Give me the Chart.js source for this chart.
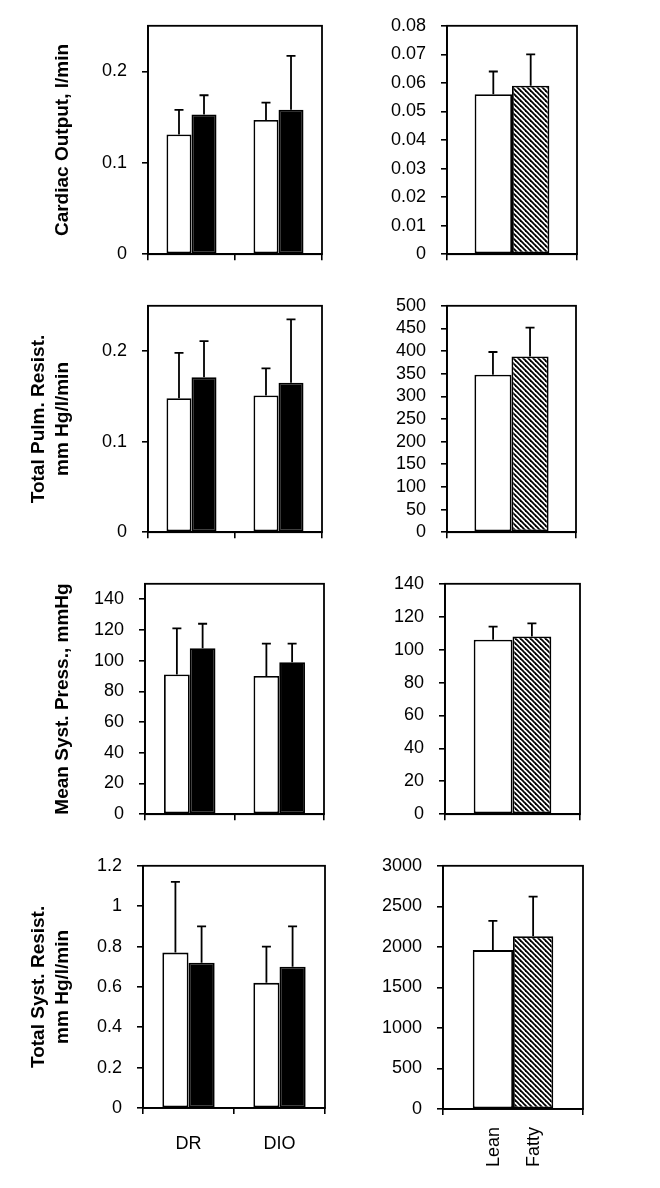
<!DOCTYPE html>
<html><head><meta charset="utf-8">
<script src="https://cdn.jsdelivr.net/npm/chart.js@4.4.1/dist/chart.umd.min.js"></script>
<style>
html,body{margin:0;padding:0;background:#fff;}
#wrap{position:relative;width:660px;height:1188px;overflow:hidden;}
canvas{position:absolute;}
</style></head><body><div id="wrap"></div>
<script>
// ---------- DATA ----------
const groupLabels = ['DR', 'DIO'];
const ratLabels = ['Lean', 'Fatty'];
const seriesNames = ['Series 1', 'Series 2'];

// Cardiac Output, l/min
const coWhite = [0.131, 0.147];
const coWhiteErr = [0.027, 0.019];
const coBlack = [0.153, 0.158];
const coBlackErr = [0.021, 0.059];
const coRat = [0.056, 0.059];
const coRatErr = [0.008, 0.011];
const coTicks = [0, 0.1, 0.2];
const coRatTicks = [0, 0.01, 0.02, 0.03, 0.04, 0.05, 0.06, 0.07, 0.08];

// Total Pulm. Resist.
const tprWhite = [0.148, 0.151];
const tprWhiteErr = [0.050, 0.030];
const tprBlack = [0.171, 0.165];
const tprBlackErr = [0.040, 0.070];
const tprRat = [348, 388];
const tprRatErr = [50, 64];
const tprTicks = [0, 0.1, 0.2];
const tprRatTicks = [0, 50, 100, 150, 200, 250, 300, 350, 400, 450, 500];

// Mean Syst. Press., mmHg
const mspWhite = [91, 90];
const mspWhiteErr = [30, 21];
const mspBlack = [108, 99];
const mspBlackErr = [16, 12];
const mspRat = [106, 108];
const mspRatErr = [8, 8];
const mspTicks = [0, 20, 40, 60, 80, 100, 120, 140];
const mspRatTicks = [0, 20, 40, 60, 80, 100, 120, 140];

// Total Syst. Resist.
const tsrWhite = [0.77, 0.62];
const tsrWhiteErr = [0.35, 0.18];
const tsrBlack = [0.72, 0.70];
const tsrBlackErr = [0.18, 0.20];
const tsrRat = [1960, 2130];
const tsrRatErr = [360, 490];
const tsrTicks = [0, 0.2, 0.4, 0.6, 0.8, 1, 1.2];
const tsrRatTicks = [0, 500, 1000, 1500, 2000, 2500, 3000];

// ---------- STYLE / LAYOUT ----------
Chart.defaults.font.family = "'Liberation Sans', Arial, sans-serif";
Chart.defaults.color = '#000';

function hatch() {
  const p = 5;
  const c = document.createElement('canvas');
  c.width = p; c.height = p;
  const g = c.getContext('2d');
  g.fillStyle = '#fff'; g.fillRect(0, 0, p, p);
  g.strokeStyle = '#000'; g.lineWidth = 1.8;
  for (let k = -1; k <= 1; k++) {
    g.beginPath(); g.moveTo(k * p - 1, -1); g.lineTo(k * p + p + 1, p + 1); g.stroke();
  }
  return g.createPattern(c, 'repeat');
}
const hatchPattern = hatch();

const errPlugin = {
  id: 'errbars',
  afterDatasetsDraw(chart) {
    const ctx = chart.ctx, ys = chart.scales.y;
    ctx.save();
    ctx.strokeStyle = '#000'; ctx.lineWidth = 1.8;
    chart.data.datasets.forEach((ds, i) => {
      const meta = chart.getDatasetMeta(i);
      meta.data.forEach((bar, j) => {
        const top = ys.getPixelForValue(ds.data[j] + ds.err[j]);
        ctx.beginPath();
        ctx.moveTo(bar.x, bar.y); ctx.lineTo(bar.x, top);
        ctx.moveTo(bar.x - 4.5, top); ctx.lineTo(bar.x + 4.5, top);
        ctx.stroke();
      });
    });
    ctx.restore();
  }
};
const boxPlugin = {
  id: 'box',
  afterDraw(chart) {
    const a = chart.chartArea, ctx = chart.ctx;
    ctx.save(); ctx.strokeStyle = '#000'; ctx.lineWidth = 1.8;
    ctx.strokeRect(a.left, a.top, a.right - a.left, a.bottom - a.top);
    ctx.restore();
  }
};
const rotLabelPlugin = {
  id: 'rotlabels',
  afterDraw(chart, args, opts) {
    if (!opts.show) return;
    const ctx = chart.ctx, a = chart.chartArea;
    ctx.save();
    ctx.font = "18px 'Liberation Sans', Arial, sans-serif";
    ctx.fillStyle = '#000'; ctx.textAlign = 'right'; ctx.textBaseline = 'middle';
    chart.data.datasets.forEach((ds, i) => {
      const bar = chart.getDatasetMeta(i).data[0];
      ctx.save();
      ctx.translate(bar.x + 1, a.bottom + 18);
      ctx.rotate(-Math.PI / 2);
      ctx.fillText(ds.label, 0, 0);
      ctx.restore();
    });
    ctx.restore();
  }
};

function makePanel(p) {
  const cv = document.createElement('canvas');
  cv.width = p.w; cv.height = p.h;
  cv.style.left = p.x + 'px'; cv.style.top = p.y + 'px';
  cv.style.width = p.w + 'px'; cv.style.height = p.h + 'px';
  document.getElementById('wrap').appendChild(cv);
  const [L, T, R, B] = p.area;
  const barBase = { borderColor: '#000', borderWidth: 1.8, borderSkipped: false,
    barPercentage: 1, categoryPercentage: 0.575 };
  const datasets = p.sets.map(s => Object.assign({}, barBase, s));
  new Chart(cv, {
    type: 'bar',
    data: { labels: p.labels, datasets },
    options: {
      responsive: false, animation: false, devicePixelRatio: 1,
      layout: { padding: { left: 0, top: T - p.y, right: p.x + p.w - R, bottom: 0 } },
      plugins: { legend: { display: false }, tooltip: { enabled: false },
        rotlabels: { show: !!p.rotLabels } },
      scales: {
        x: {
          grid: { drawOnChartArea: false, color: '#000', lineWidth: 1.6, tickLength: 6, offset: true },
          border: { color: '#000', width: 1.8 },
          ticks: { display: !!p.showX, font: { size: 18 }, padding: 19, maxRotation: 0, autoSkip: false },
          afterFit: s => { s.height = p.y + p.h - B; }
        },
        y: {
          min: 0, max: p.ymax,
          grid: { drawOnChartArea: false, color: '#000', lineWidth: 1.6, tickLength: 6 },
          border: { color: '#000', width: 1.8 },
          afterBuildTicks: s => { s.ticks = p.ticks.map(v => ({ value: v })); },
          ticks: { font: { size: 18 }, padding: 15, callback: v => String(v) },
          title: p.title ? { display: true, text: p.title, color: '#000',
            font: { size: 19, weight: 'bold', lineHeight: 1.26 },
            padding: { top: p.titlePad, bottom: 0 } } : { display: false },
          afterFit: s => { s.width = L - p.x; }
        }
      }
    },
    plugins: [errPlugin, boxPlugin, rotLabelPlugin]
  });
}

function leftSets(w, we, b, be) {
  return [
    { label: seriesNames[0], data: w, err: we, backgroundColor: '#fff' },
    { label: seriesNames[1], data: b, err: be, backgroundColor: '#000' }
  ];
}
function ratSets(v, e) {
  return [
    { label: ratLabels[0], data: [v[0]], err: [e[0]], backgroundColor: '#fff' },
    { label: ratLabels[1], data: [v[1]], err: [e[1]], backgroundColor: hatchPattern }
  ];
}

// Row 1
makePanel({ x: 0, y: 0, w: 330, h: 280, area: [148, 17, 322, 263], ymax: 0.25, ticks: coTicks,
  labels: groupLabels, sets: leftSets(coWhite, coWhiteErr, coBlack, coBlackErr),
  title: 'Cardiac Output, l/min', titlePad: 51 });
makePanel({ x: 330, y: 0, w: 330, h: 280, area: [447, 17, 577, 267], ymax: 0.08, ticks: coRatTicks,
  labels: [''], sets: ratSets(coRat, coRatErr) });
// Row 2
makePanel({ x: 0, y: 280, w: 330, h: 278, area: [148, 294, 322, 539], ymax: 0.25, ticks: tprTicks,
  labels: groupLabels, sets: leftSets(tprWhite, tprWhiteErr, tprBlack, tprBlackErr),
  title: ['Total Pulm. Resist.', 'mm Hg/l/min'], titlePad: 26.5 });
makePanel({ x: 330, y: 280, w: 330, h: 278, area: [447, 294, 576, 541], ymax: 500, ticks: tprRatTicks,
  labels: [''], sets: ratSets(tprRat, tprRatErr) });
// Row 3
makePanel({ x: 0, y: 558, w: 330, h: 282, area: [145, 579, 324, 824], ymax: 150, ticks: mspTicks,
  labels: groupLabels, sets: leftSets(mspWhite, mspWhiteErr, mspBlack, mspBlackErr),
  title: 'Mean Syst. Press., mmHg', titlePad: 51 });
makePanel({ x: 330, y: 558, w: 330, h: 282, area: [445, 575, 580, 826], ymax: 140, ticks: mspRatTicks,
  labels: [''], sets: ratSets(mspRat, mspRatErr) });
// Row 4
makePanel({ x: 0, y: 840, w: 330, h: 348, area: [143, 863, 325, 1108], ymax: 1.2, ticks: tsrTicks,
  labels: groupLabels, sets: leftSets(tsrWhite, tsrWhiteErr, tsrBlack, tsrBlackErr),
  title: ['Total Syst. Resist.', 'mm Hg/l/min'], titlePad: 26.5, showX: true });
makePanel({ x: 330, y: 840, w: 330, h: 348, area: [443, 863, 583, 1109], ymax: 3000, ticks: tsrRatTicks,
  labels: [''], sets: ratSets(tsrRat, tsrRatErr), rotLabels: true });
</script></body></html>
